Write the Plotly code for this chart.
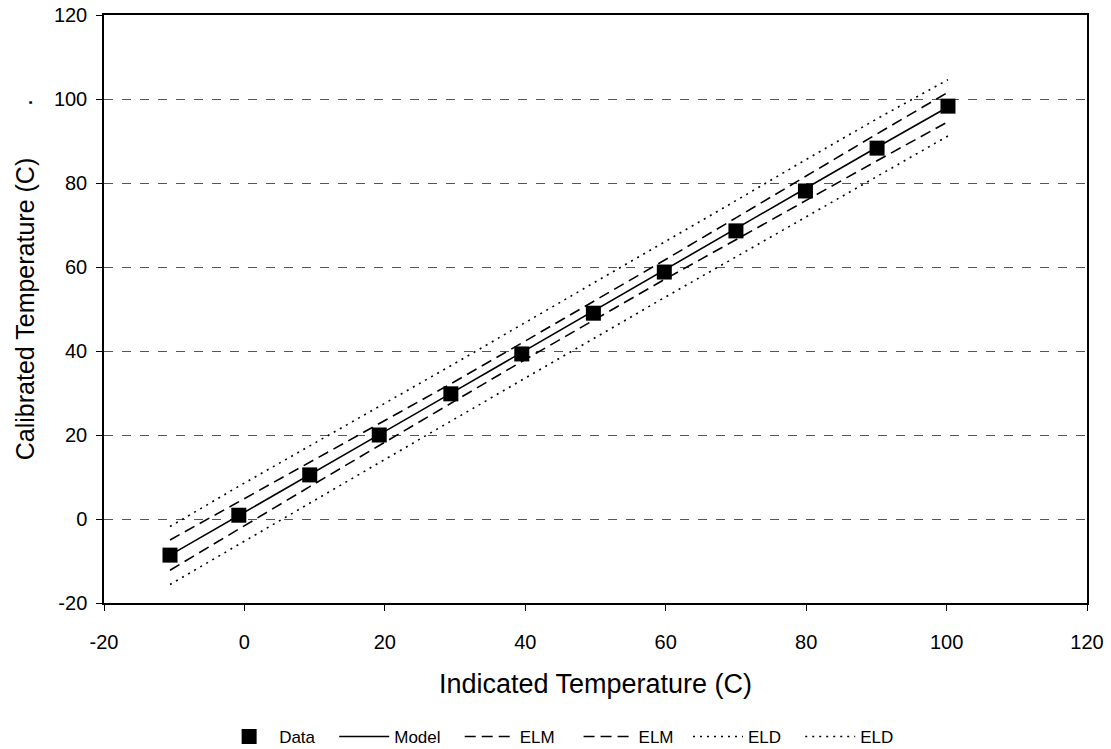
import plotly.graph_objects as go

x_ind = [-10.6, -0.8, 9.3, 19.2, 29.4, 39.5, 49.7, 59.8, 70.0, 79.9, 90.1, 100.2]
y_data = [-8.6, 0.9, 10.5, 20.0, 29.8, 39.3, 49.0, 58.8, 68.6, 78.1, 88.3, 98.3]
model = [-8.6, 0.9, 10.6, 20.1, 29.9, 39.7, 49.5, 59.3, 69.1, 78.7, 88.5, 98.1]
elm_upper = [-5.0, 4.1, 13.5, 22.7, 32.2, 41.9, 51.7, 61.6, 71.7, 81.6, 91.7, 101.6]
elm_lower = [-12.2, -2.3, 7.7, 17.5, 27.6, 37.5, 47.3, 57.0, 66.5, 75.8, 85.3, 94.6]
eld_upper = [-1.8, 7.8, 17.4, 26.8, 36.5, 46.3, 56.1, 65.9, 75.8, 85.5, 95.3, 104.6]
eld_lower = [-15.6, -6.0, 3.9, 13.4, 23.3, 33.1, 42.9, 52.7, 62.4, 71.9, 81.6, 91.2]

x_ticks = [-20, 0, 20, 40, 60, 80, 100, 120]
y_ticks = [-20, 0, 20, 40, 60, 80, 100, 120]

FONT = "Liberation Sans, Arial, sans-serif"
fig = go.Figure()

line_w = 1.6
NB = "\u00a0"
fig.add_trace(go.Scatter(x=x_ind, y=eld_upper, mode="lines", name="ELD" + NB * 3, legendrank=5,
                         line=dict(color="black", width=line_w, dash="2px,5px")))
fig.add_trace(go.Scatter(x=x_ind, y=eld_lower, mode="lines", name="ELD", legendrank=6,
                         line=dict(color="black", width=line_w, dash="2px,5px")))
fig.add_trace(go.Scatter(x=x_ind, y=elm_upper, mode="lines", name="ELM" + NB * 4, legendrank=3,
                         line=dict(color="black", width=line_w, dash="11px,6px")))
fig.add_trace(go.Scatter(x=x_ind, y=elm_lower, mode="lines", name="ELM" + NB * 2, legendrank=4,
                         line=dict(color="black", width=line_w, dash="11px,6px")))
fig.add_trace(go.Scatter(x=x_ind, y=model, mode="lines", name="Model" + NB * 3, legendrank=2,
                         line=dict(color="black", width=line_w)))
fig.add_trace(go.Scatter(x=x_ind, y=y_data, mode="markers", name="Data" + NB * 3, legendrank=1,
                         marker=dict(symbol="square", size=15, color="black",
                                     line=dict(width=0))))

fig.update_layout(
    width=1111, height=749,
    margin=dict(l=104, r=24, t=15, b=146, autoexpand=False),
    paper_bgcolor="white", plot_bgcolor="white",
    font=dict(family=FONT, size=17, color="black"),
    showlegend=True,
    legend=dict(orientation="h", x=0.463, xanchor="center",
                yref="container", y=(749 - 737) / 749, yanchor="middle",
                font=dict(size=17), itemwidth=50, traceorder="normal",
                bgcolor="rgba(0,0,0,0)"),
    annotations=[dict(text=".", textangle=-90, xref="paper", yref="paper",
                      x=-81 / 983, y=(603 - 103) / 588, xanchor="center",
                      yanchor="middle", showarrow=False, font=dict(size=25))],
)
fig.update_xaxes(
    range=[-20, 120], tickvals=x_ticks, ticktext=[str(v) for v in x_ticks],
    showline=True, linecolor="black", linewidth=1.5, mirror=True, automargin=False,
    ticks="outside", ticklen=6, tickcolor="black", showgrid=False, zeroline=False,
    ticklabelstandoff=14, ticklabeloverflow="allow",
    title=dict(text="Indicated Temperature (C)", font=dict(size=27), standoff=22),
    tickfont=dict(size=20),
)
fig.update_yaxes(
    range=[-20, 120], tickvals=y_ticks, ticktext=[str(v) for v in y_ticks],
    showline=True, linecolor="black", linewidth=1.5, mirror=True, automargin=False,
    ticks="outside", ticklen=6, tickcolor="black", ticklabelstandoff=5,
    ticklabeloverflow="allow",
    showgrid=True, gridcolor="#555555", gridwidth=1, griddash="dash", zeroline=False,
    title=dict(text="Calibrated Temperature (C)", font=dict(size=25), standoff=12),
    tickfont=dict(size=20),
)

fig.write_html("out.html", config={"displayModeBar": False},
               post_script="document.body.style.margin='0';")
